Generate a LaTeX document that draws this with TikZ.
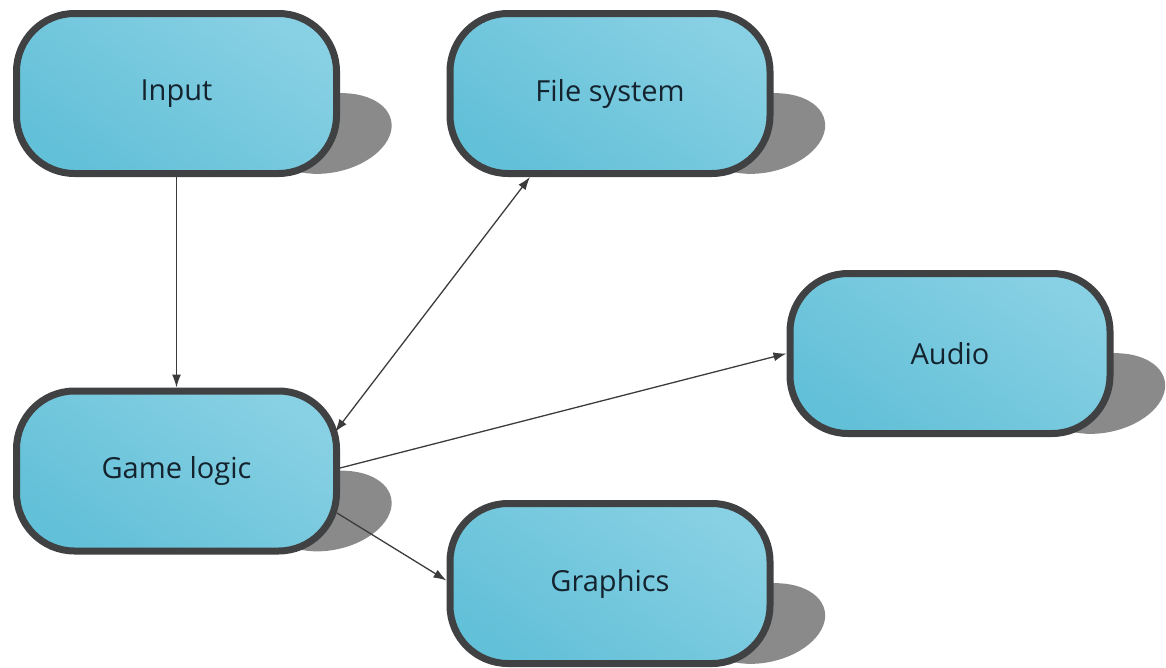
\documentclass[tikz,border=0pt]{standalone}
\usepackage{fontspec}
\setmainfont{Open Sans}
\usetikzlibrary{arrows.meta}
\definecolor{boxtop}{HTML}{88D0E3}
\definecolor{boxbot}{HTML}{62C0D8}
\definecolor{boxline}{HTML}{404142}
\definecolor{shadowc}{HTML}{8A8A8A}
\definecolor{arrc}{HTML}{3C3C3C}
\definecolor{txtc}{HTML}{14232E}
\tikzset{
  box/.style={rectangle, rounded corners=58pt, draw=boxline, line width=7pt,
    top color=boxtop, bottom color=boxbot, shading angle=-35,
    minimum width=320pt, minimum height=160pt, inner sep=0pt,
    font=\fontsize{29}{33}\selectfont, text=txtc},
  shadowblob/.style={fill=shadowc},
  arr/.style={draw=arrc, line width=1.3pt, -{Latex[length=13pt,width=9pt]}},
  darr/.style={draw=arrc, line width=1.3pt, {Latex[length=13pt,width=9pt]}-{Latex[length=13pt,width=9pt]}},
}
\begin{document}
\begin{tikzpicture}[x=1pt,y=-1pt]
\useasboundingbox (0,0) rectangle (1166,667);
\path (176.5,93.5) coordinate (cin) (610,93.5) coordinate (cfs) (950,353.5) coordinate (cau)
      (176.5,471) coordinate (cgl) (610,583.5) coordinate (cgr);
% shadows behind the boxes
\foreach \c in {cin,cfs,cau,cgl,cgr}{
  \fill[shadowblob] ([xshift=153pt,yshift=-40pt]\c) ellipse[x radius=63pt, y radius=39pt, rotate=12];
}
\node[box] (input) at (cin) {Input};
\node[box] (files) at (cfs) {File system};
\node[box] (audio) at (cau) {Audio};
\node[box] (game) at (cgl) {Game logic};
\node[box] (graphics) at (cgr) {Graphics};
\draw[arr] (input) -- (game);
\draw[darr] ([xshift=-5pt,yshift=39pt]game.east) -- ([xshift=-80pt]files.south);
\draw[arr] ([yshift=3pt]game.east) -- (audio.west);
\draw[arr] ([xshift=-3pt,yshift=-42pt]game.east) -- ([yshift=3pt]graphics.west);
\end{tikzpicture}
\end{document}
